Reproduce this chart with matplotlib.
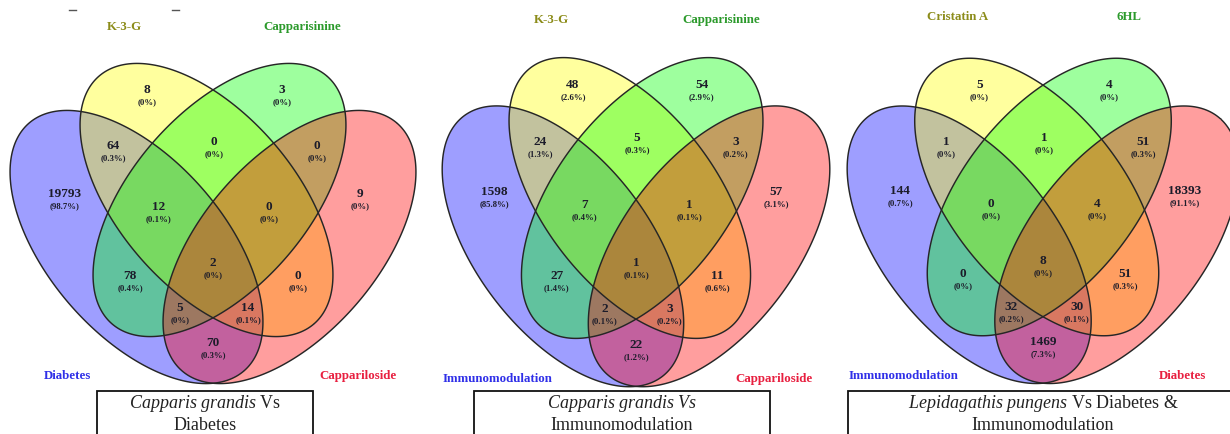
import numpy as np
import matplotlib
matplotlib.use("Agg")
import matplotlib.pyplot as plt
from matplotlib.patches import Polygon, Rectangle

plt.rcParams["font.family"] = "Liberation Serif"
plt.rcParams["mathtext.fontset"] = "custom"
plt.rcParams["mathtext.rm"] = "Liberation Serif"
plt.rcParams["mathtext.it"] = "Liberation Serif:italic"

# region order: A, B, C, D, AB, BC, CD, ABC, BCD, ABCD, AC, BD, ACD, ABD, AD
# (A = blue, B = yellow, C = green, D = red)
cg_diabetes = [19793, 8, 3, 9, 64, 0, 0, 12, 0, 2, 78, 0, 5, 14, 70]
cg_immuno = [1598, 48, 54, 57, 24, 5, 3, 7, 1, 1, 27, 11, 2, 3, 22]
lp_both = [144, 5, 4, 18393, 1, 1, 51, 0, 4, 8, 0, 51, 32, 30, 1469]

sets_1 = ["Diabetes", "K-3-G", "Capparisinine", "Cappariloside"]
sets_2 = ["Immunomodulation", "K-3-G", "Capparisinine", "Cappariloside"]
sets_3 = ["Immunomodulation", "Cristatin A", "6HL", "Diabetes"]

titles_1 = [r"$\mathit{Capparis\ grandis}$ Vs", "Diabetes"]
titles_2 = [r"$\mathit{Capparis\ grandis\ Vs}$", "Immunomodulation"]
titles_3 = [r"$\mathit{Lepidagathis\ pungens}$ Vs Diabetes &", "Immunomodulation"]

fill_colors = ["#0000ff", "#ffff00", "#00ff00", "#ff0000"]
name_colors = ["#3030e8", "#8c8c1a", "#2c9a2c", "#e82040"]

# ellipse layout in pixels around a panel centre: (cx, cy, a, b, angle)
ellipses = [(-76.5, 47, 164, 88, 49), (-6.5, 0, 164, 88, 49),
            (6.5, 0, 164, 88, -49), (76.5, 47, 164, 88, -49)]
# count label spots, same region order as the data
spots = [(-148, -6), (-66, -110), (69, -110), (147, -6), (-100, -54),
         (1, -58), (104, -54), (-54, 7), (56, 7), (0, 63), (-83, 76),
         (85, 76), (-33, 108), (35, 108), (0, 143)]
name_spots = [(-145, 176), (-89, -173), (89, -173), (145, 176)]


def pct_text(n, total):
    p = round(100.0 * n / total, 1)
    return "(0%)" if p == 0 else f"({p:.1f}%)"


def draw_venn(ax, counts, names, title, ox, oy, sx, sy, box, top_dy=0):
    t = np.linspace(0, 2 * np.pi, 400)
    outlines = []
    for (cx, cy, a, b, ang), col in zip(ellipses, fill_colors):
        th = np.radians(ang)
        x = cx + a * np.cos(t) * np.cos(th) - b * np.sin(t) * np.sin(th)
        y = cy + a * np.cos(t) * np.sin(th) + b * np.sin(t) * np.cos(th)
        pts = np.column_stack([ox + x * sx, oy + y * sy])
        ax.add_patch(Polygon(pts, closed=True, facecolor=col, alpha=0.38,
                             edgecolor="none"))
        outlines.append(pts)
    for pts in outlines:
        ax.add_patch(Polygon(pts, closed=True, facecolor="none",
                             edgecolor="#262626", lw=1.05))

    total = sum(counts)
    for n, (dx, dy) in zip(counts, spots):
        x, y = ox + dx * sx, oy + dy * sy
        ax.text(x, y, str(n), ha="center", va="center", fontsize=9.5,
                fontweight="bold", color="#1c1c2a")
        ax.text(x, y + 12, pct_text(n, total), ha="center", va="center",
                fontsize=6.3, fontweight="bold", color="#1c1c2a")

    for i, (name, (dx, dy)) in enumerate(zip(names, name_spots)):
        y = oy + dy * sy + (top_dy if dy < 0 else 0)
        ax.text(ox + dx * sx, y, name, ha="center", va="center",
                fontsize=9.3, fontweight="bold", color=name_colors[i])

    x0, x1 = box
    ax.add_patch(Rectangle((x0, 391), x1 - x0, 60, facecolor="white",
                           edgecolor="#111111", lw=1.3))
    cx = (x0 + x1) / 2
    ax.text(cx, 404, title[0], ha="center", va="center", fontsize=13,
            color="#222222")
    ax.text(cx, 425, title[1], ha="center", va="center", fontsize=13,
            color="#222222")


fig = plt.figure(figsize=(12.3, 4.34), dpi=100)
ax = fig.add_axes([0, 0, 1, 1])
ax.set_xlim(0, 1230)
ax.set_ylim(434, 0)
ax.axis("off")

draw_venn(ax, cg_diabetes, sets_1, titles_1, 213, 200, 1.0, 1.0, (97, 313))
draw_venn(ax, cg_immuno, sets_2, titles_2, 636, 198, 0.955, 1.028, (474, 770))
draw_venn(ax, lp_both, sets_3, titles_3, 1043, 197, 0.965, 1.016, (848, 1238),
          top_dy=-4)

# two stray ticks left over at the top edge
ax.plot([69, 76], [10, 10], color="#555555", lw=1)
ax.plot([172, 179], [10, 10], color="#555555", lw=1)

fig.savefig("out.png", dpi=100)
